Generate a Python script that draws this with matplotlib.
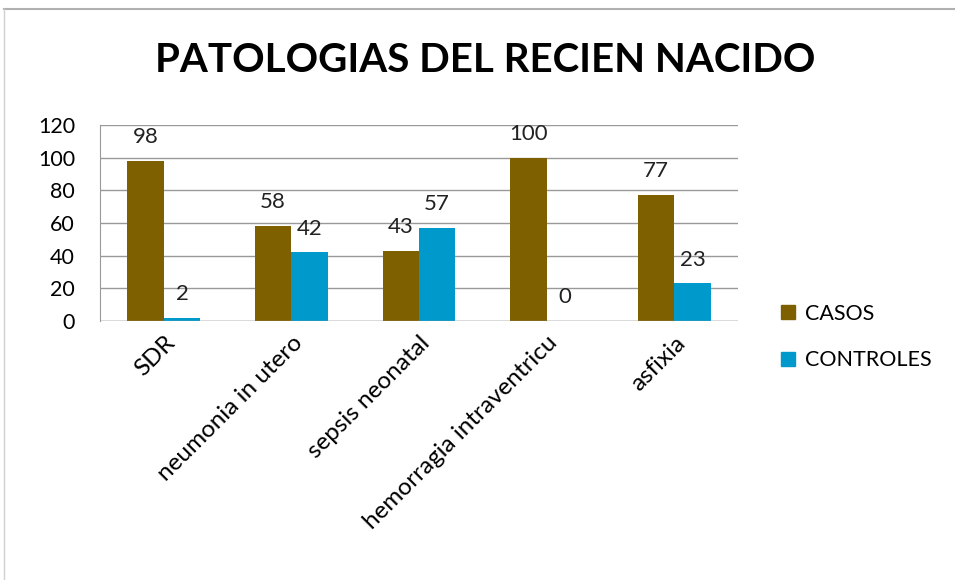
import matplotlib.pyplot as plt
import numpy as np
from matplotlib.lines import Line2D

categories = ['SDR', 'neumonia in utero', 'sepsis neonatal', 'hemorragia intraventricu', 'asfixia']
casos = [98, 58, 43, 100, 77]
controles = [2, 42, 57, 0, 23]
series_names = ['CASOS', 'CONTROLES']
colors = ['#7F6000', '#0099CC']
yticks = [0, 20, 40, 60, 80, 100, 120]

plt.rcParams['font.family'] = ['Lato', 'DejaVu Sans']

fig = plt.figure(figsize=(9.55, 5.8), dpi=100)
W, H = 955, 580
# plot area in pixel terms: x 100..738, y 125..321
ax = fig.add_axes([100 / W, 1 - 321 / H, 638 / W, 196 / H])

x = np.arange(len(categories))
bw = 0.285
b1 = ax.bar(x - bw / 2, casos, bw, color=colors[0], zorder=3, label=series_names[0])
b2 = ax.bar(x + bw / 2, controles, bw, color=colors[1], zorder=3, label=series_names[1])

for bars, vals in ((b1, casos), (b2, controles)):
    for r, v in zip(bars, vals):
        ax.annotate(str(v), (r.get_x() + r.get_width() / 2, v), xytext=(0, 10),
                    textcoords='offset points', ha='center', va='bottom', fontsize=16, color='#222222')

ax.set_xlim(-0.5, len(categories) - 0.5)
ax.set_ylim(0, 120)
ax.set_yticks(yticks)
ax.yaxis.grid(True, color='#999999', linewidth=1)
ax.set_axisbelow(True)
for s in ['top', 'right', 'bottom']:
    ax.spines[s].set_visible(False)
ax.spines['left'].set_color('#999999')
ax.axhline(0, color='#999999', linewidth=1, zorder=4)
ax.tick_params(axis='y', length=0, pad=18, labelsize=15.5)
ax.tick_params(axis='x', length=0, pad=8, labelsize=17.5)
ax.set_xticks(x)
ax.set_xticklabels(categories, rotation=45, ha='right', rotation_mode='anchor')

fig.text(485 / W, 1 - 60 / H, 'PATOLOGIAS DEL RECIEN NACIDO', ha='center', va='center',
         fontsize=29, fontweight='bold', color='black')

handles = [Line2D([], [], marker='s', linestyle='none', markersize=10, color=c) for c in colors]
fig.legend(handles, series_names, loc='center left', bbox_to_anchor=(758 / W, 1 - 337 / H),
           frameon=False, fontsize=15.5, handletextpad=0.3, labelspacing=1.25, handlelength=1)

# outer chart border
fig.add_artist(Line2D([4 / W, 1], [1 - 9 / H, 1 - 9 / H], color='#b0b0b0', linewidth=1.5))
fig.add_artist(Line2D([4 / W, 4 / W], [0, 1 - 9 / H], color='#d0d0d0', linewidth=1))

fig.savefig('out.png', dpi=100)
